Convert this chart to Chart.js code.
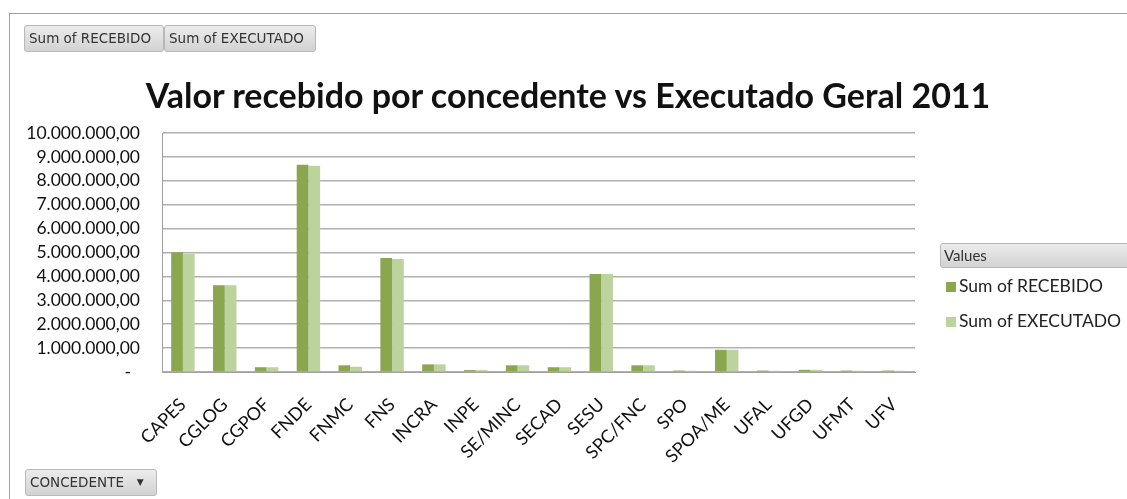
<!DOCTYPE html>
<html>
<head>
<meta charset="utf-8">
<script src="https://cdn.jsdelivr.net/npm/chart.js@4.4.1/dist/chart.umd.min.js"></script>
<style>
    html, body { margin: 0; padding: 0; background: #fff; }
    #wrap { position: relative; width: 1127px; height: 499px; overflow: hidden; }
    #grafico { position: absolute; left: 0; top: 0; }
    .marco { position: absolute; left: 9px; top: 13px; right: -5px; bottom: -5px; border: 1px solid #a0a0a0; }
    .titulo {
        position: absolute; left: 0; width: 1136px; top: 75px; text-align: center;
        font-family: Lato, sans-serif; font-weight: bold; font-size: 34px; line-height: 40px; color: #111;
    }
    .boton {
        position: absolute; height: 27px; box-sizing: border-box;
        border: 1px solid #b8b8b8; border-radius: 3px;
        background: linear-gradient(#ececec, #d2d2d2);
        font-family: 'DejaVu Sans', sans-serif; font-size: 13.5px; color: #333;
        line-height: 25px; padding-left: 4px; white-space: nowrap;
    }
    .valores {
        position: absolute; left: 940px; top: 243px; width: 200px; height: 25px; box-sizing: border-box;
        border: 1px solid #b8b8b8; border-radius: 3px;
        background: linear-gradient(#ececec, #d2d2d2);
        font-family: Lato, sans-serif; font-size: 15px; color: #333; line-height: 23px; padding-left: 3px;
    }
    .leyenda { position: absolute; left: 946px; font-family: Lato, sans-serif; font-size: 17.5px; color: #222; white-space: nowrap; }
    .leyenda span { display: inline-block; width: 10px; height: 10px; margin-right: 3px; }
</style>
</head>
<body>
<div id="wrap">
    <div class="marco"></div>
    <canvas id="grafico" width="1127" height="499"></canvas>
    <div class="titulo">Valor recebido por concedente vs Executado Geral 2011</div>
    <div class="boton" style="left:24px;top:25px;width:140px;">Sum of RECEBIDO</div>
    <div class="boton" style="left:164px;top:25px;width:152px;">Sum of EXECUTADO</div>
    <div class="boton" style="left:25px;top:469px;width:132px;">CONCEDENTE&nbsp;&nbsp;&nbsp;<span style="font-size:9px;position:relative;top:-2px;">&#9660;</span></div>
    <div class="valores">Values</div>
    <div id="leyenda"></div>
</div>
<script>
const concedentes = ['CAPES', 'CGLOG', 'CGPOF', 'FNDE', 'FNMC', 'FNS', 'INCRA', 'INPE', 'SE/MINC',
    'SECAD', 'SESU', 'SPC/FNC', 'SPO', 'SPOA/ME', 'UFAL', 'UFGD', 'UFMT', 'UFV'];
const recebido = [5010000, 3630000, 200000, 8670000, 280000, 4770000, 320000, 80000, 280000,
    200000, 4100000, 280000, 60000, 930000, 60000, 90000, 60000, 60000];
const executado = [4940000, 3630000, 200000, 8630000, 220000, 4730000, 320000, 80000, 280000,
    200000, 4100000, 280000, 50000, 930000, 50000, 90000, 50000, 50000];
const ticksEixoY = [0, 1000000, 2000000, 3000000, 4000000, 5000000, 6000000, 7000000, 8000000, 9000000, 10000000];
const series = ['Sum of RECEBIDO', 'Sum of EXECUTADO'];
const cores = ['#8aa64f', '#bdd39d'];

function formatarValor(v) {
    if (v === 0) return '-  ';
    const partes = Math.round(v).toString().replace(/\B(?=(\d{3})+(?!\d))/g, '.');
    return partes + ',00';
}

document.addEventListener('DOMContentLoaded', () => {
    // legenda em html, ao lado do grafico
    const leyenda = document.getElementById('leyenda');
    series.forEach((nome, i) => {
        const item = document.createElement('div');
        item.className = 'leyenda';
        item.style.top = (275 + i * 35) + 'px';
        item.innerHTML = `<span style="background:${cores[i]}"></span>${nome}`;
        leyenda.appendChild(item);
    });

    new Chart(document.getElementById('grafico').getContext('2d'), {
        type: 'bar',
        data: {
            labels: concedentes,
            datasets: [
                { label: series[0], data: recebido, backgroundColor: cores[0] },
                { label: series[1], data: executado, backgroundColor: cores[1] }
            ]
        },
        options: {
            responsive: false,
            animation: false,
            layout: { padding: { left: 0, right: 212, top: 133, bottom: 0 } },
            datasets: { bar: { categoryPercentage: 0.56, barPercentage: 1 } },
            plugins: {
                legend: { display: false },
                tooltip: { enabled: false },
                title: { display: false }
            },
            scales: {
                x: {
                    grid: { display: false, drawTicks: false },
                    border: { color: '#a0a0a0', width: 1 },
                    ticks: {
                        color: '#111', font: { family: 'Lato', size: 18 },
                        maxRotation: 45, minRotation: 45, padding: 22, autoSkip: false
                    },
                    afterFit: (escala) => { escala.height = 127; }
                },
                y: {
                    min: 0, max: 10000000,
                    afterBuildTicks: (escala) => { escala.ticks = ticksEixoY.map(v => ({ value: v })); },
                    grid: { color: '#b0b0b0', lineWidth: 1.5, drawTicks: false },
                    border: { color: '#a0a0a0', width: 1 },
                    ticks: {
                        color: '#111', font: { family: 'Lato', size: 17.5 }, padding: 22, autoSkip: false,
                        callback: (v) => formatarValor(v)
                    },
                    afterFit: (escala) => { escala.width = 162; }
                }
            }
        }
    });
});
</script>
</body>
</html>
